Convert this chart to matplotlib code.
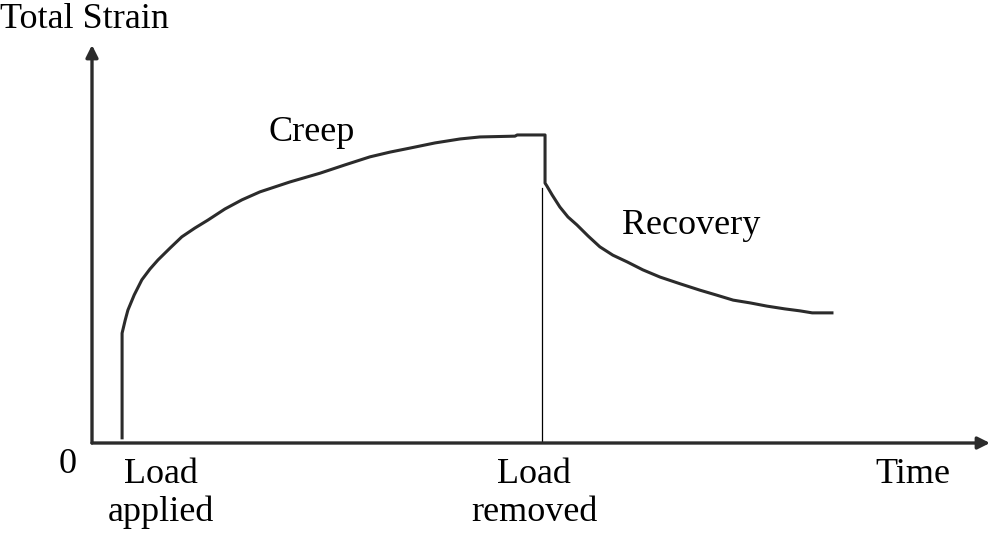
import matplotlib
matplotlib.use("Agg")
import matplotlib.pyplot as plt

plt.rcParams['font.family'] = ['Liberation Serif', 'DejaVu Serif']

# Curva di creep (carico applicato) - tempo / deformazione in unita' arbitrarie
t_creep = [0.67, 0.67, 0.74, 0.80, 0.94, 1.11, 1.29, 1.47, 1.74, 2.00, 2.29,
           2.58, 2.96, 3.34, 3.74, 4.41, 5.08, 5.64, 6.19, 6.64, 7.08, 7.64,
           8.20, 8.64, 9.42, 9.47, 10.09]
s_creep = [0.13, 2.76, 3.09, 3.34, 3.72, 4.10, 4.37, 4.60, 4.90, 5.18, 5.40,
           5.60, 5.88, 6.11, 6.31, 6.56, 6.78, 6.99, 7.19, 7.31, 7.41, 7.54,
           7.64, 7.69, 7.71, 7.74, 7.74]

# Curva di recupero (carico rimosso)
t_recovery = [10.09, 10.13, 10.25, 10.42, 10.60, 10.80, 11.05, 11.31, 11.60,
              11.92, 12.27, 12.65, 13.10, 13.54, 13.90, 14.28, 14.66, 15.03,
              15.43, 15.77, 16.04, 16.48]
s_recovery = [6.53, 6.46, 6.23, 5.93, 5.68, 5.48, 5.20, 4.93, 4.72,
              4.55, 4.35, 4.17, 4.00, 3.84, 3.72, 3.59, 3.52, 3.44,
              3.37, 3.32, 3.27, 3.27]

t_removed = 10.02
s_removed_top = 6.41

fig = plt.figure(figsize=(10, 5.34), dpi=100)
ax = fig.add_axes([0.092, 0.1704, 0.898, 0.7453])
ax.set_xlim(0, 20)
ax.set_ylim(0, 10)
ax.axis('off')

col = '#2b2b2b'

# Assi con frecce
for tip in [(0, 1), (1, 0)]:
    ax.annotate("", xy=tip, xytext=(0, 0), xycoords='axes fraction',
                arrowprops=dict(arrowstyle='-|>', lw=2.4, color=col,
                                mutation_scale=18, shrinkA=0, shrinkB=0))

# Curva
ax.plot(t_creep + t_recovery, s_creep + s_recovery, color=col, lw=2.2,
        solid_joinstyle='round')
ax.plot([t_removed, t_removed], [0, s_removed_top], color='black', lw=0.9)

fs = 26
ax.text(4.9, 7.59, "Creep", fontsize=fs, ha='center', va='baseline')
ax.text(13.34, 5.26, "Recovery", fontsize=fs, ha='center', va='baseline')


def fy(px):
    return 1 - px / 534


fig.text(0.0, fy(28), "Total Strain", fontsize=fs, ha='left', va='baseline')
fig.text(0.068, fy(473), "0", fontsize=fs, ha='center', va='baseline')
fig.text(0.161, fy(483), "Load", fontsize=fs, ha='center', va='baseline')
fig.text(0.161, fy(521), "applied", fontsize=fs, ha='center', va='baseline')
fig.text(0.534, fy(483), "Load", fontsize=fs, ha='center', va='baseline')
fig.text(0.534, fy(521), "removed", fontsize=fs, ha='center', va='baseline')
fig.text(0.913, fy(483), "Time", fontsize=fs, ha='center', va='baseline')

fig.savefig("out.png", dpi=100, facecolor='white')
